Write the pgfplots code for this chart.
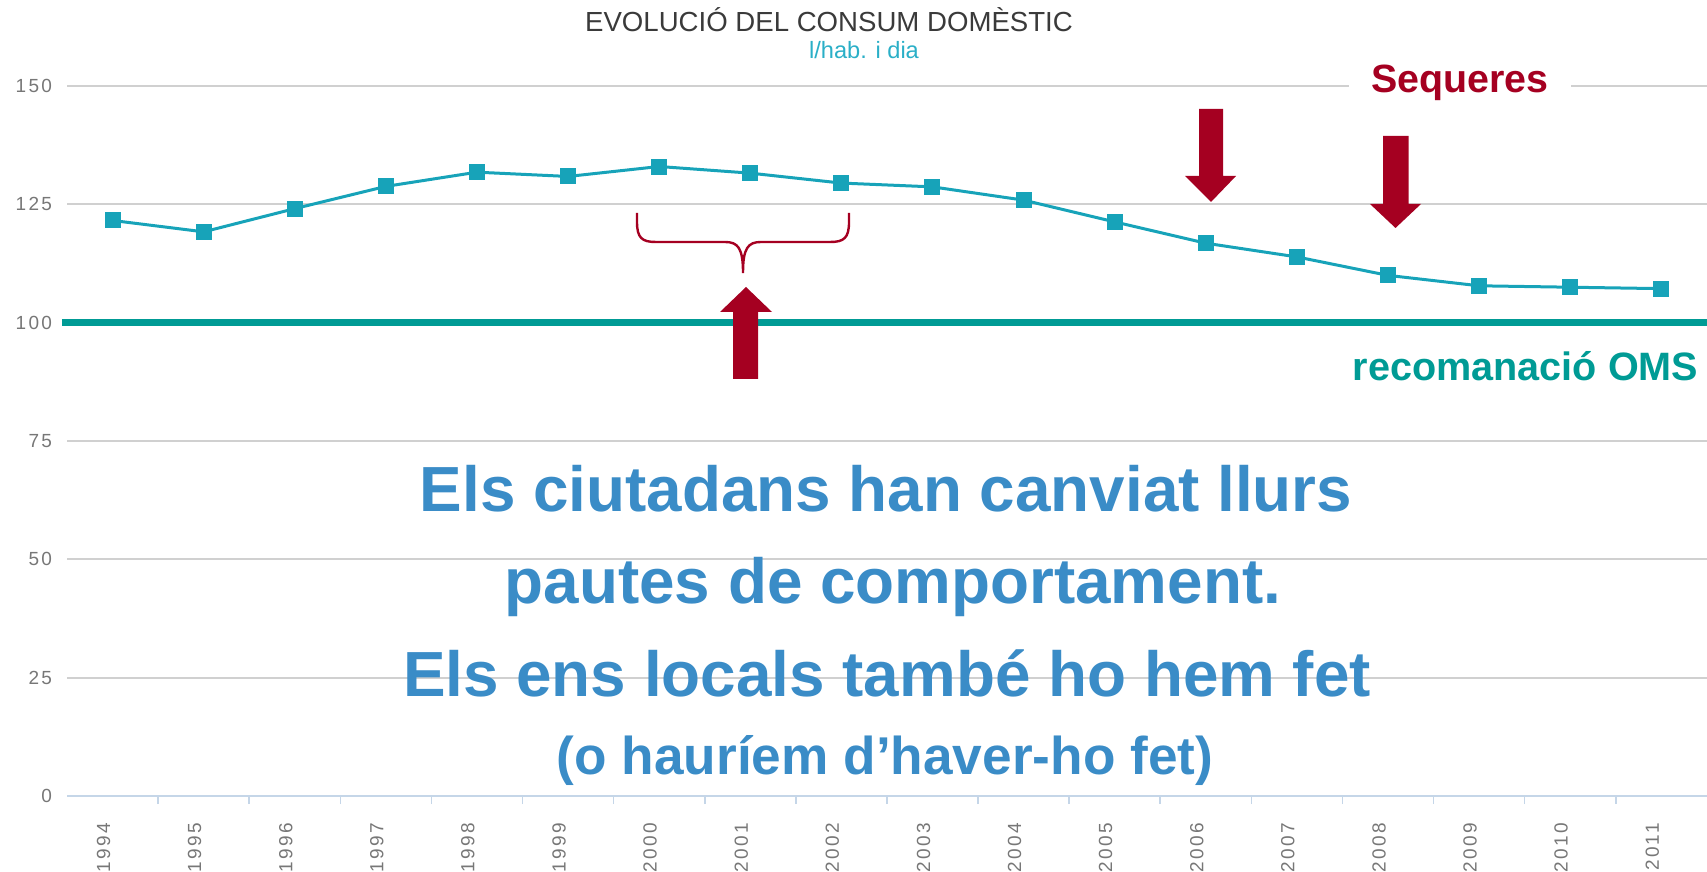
\documentclass[border=0pt]{standalone}
\usepackage{fontspec}
\setmainfont{Liberation Sans}
\newfontfamily\tickfont[LetterSpace=12]{Liberation Sans}
\usepackage{pgfplots}
\pgfplotsset{compat=1.18}
\definecolor{lineblue}{HTML}{17A3B9}
\definecolor{omsteal}{HTML}{009B95}
\definecolor{darkred}{HTML}{A50021}
\definecolor{textblue}{HTML}{3A8CC7}
\definecolor{subcyan}{HTML}{2AAFC7}
\definecolor{gridgray}{HTML}{D0D0D0}
\definecolor{axisblue}{HTML}{C5D6E8}
\definecolor{tickgray}{HTML}{777777}
\definecolor{titlegray}{HTML}{3A3A3A}

\begin{document}
\begin{tikzpicture}
\begin{axis}[
  x=45.55pt, y=2.36667pt,
  xmin=-0.5, xmax=17.5, ymin=0, ymax=150,
  clip=false,
  axis x line*=bottom,
  axis y line*=left,
  xtick pos=bottom,
  ytick pos=left,
  x axis line style={draw=axisblue, line width=1pt, -},
  y axis line style={draw=none},
  xtick={0,...,17},
  xticklabels={1994,1995,1996,1997,1998,1999,2000,2001,2002,2003,2004,2005,2006,2007,2008,2009,2010,2011},
  minor xtick={0.5,1.5,...,16.5},
  ytick={0,25,50,75,100,125,150},
  major tick length=0pt,
  minor tick length=4pt,
  tick align=outside,
  minor x tick style={draw=axisblue, line width=0.8pt},
  ymajorgrids,
  major grid style={draw=gridgray, line width=1pt},
  /pgf/number format/assume math mode=true,
  yticklabel style={font=\tickfont\fontsize{9.5}{9.5}\selectfont, text=tickgray, anchor=east, xshift=-4pt},
  xticklabel style={font=\tickfont\fontsize{9.5}{9.5}\selectfont, text=tickgray, yshift=-10pt, xshift=-4.5pt, rotate=90, anchor=east},
]
\draw[omsteal, line width=3.5pt] (axis cs:-0.555,100) -- (axis cs:17.5,100);
\addplot[lineblue, line width=1.5pt, mark=square*, mark size=3.25pt, mark options={fill=lineblue, draw=lineblue}] coordinates {
(0,121.6) (1,119.2) (2,124.1) (3,128.8) (4,131.8) (5,130.9) (6,133.0) (7,131.6) (8,129.5)
(9,128.7) (10,125.9) (11,121.3) (12,116.8) (13,113.9) (14,110.0) (15,107.8) (16,107.5) (17,107.2)
};
\coordinate (O) at (axis cs:-1.2355,168.18);
\end{axis}
\begin{scope}[shift={(O)}, x=0.5pt, y=-0.5pt]
  % arrows
  \fill[darkred] (733,379) -- (733,312) -- (720,312) -- (746,287) -- (772,312) -- (758,312) -- (758,379) -- cycle;
  \fill[darkred] (1199,109) -- (1199,176) -- (1185,176) -- (1211,202) -- (1236,176) -- (1223,176) -- (1223,109) -- cycle;
  \fill[darkred] (1383,136) -- (1383,204) -- (1370,204) -- (1395.5,228) -- (1421,204) -- (1408.5,204) -- (1408.5,136) -- cycle;
  % brace
  \draw[darkred, line width=1.2pt] (637,213) -- (637,222) .. controls (637,238) and (642,242) .. (656,242) -- (725,242)
     .. controls (738,242) and (743,248) .. (743,273)
     .. controls (743,248) and (748,242) .. (761,242) -- (830,242)
     .. controls (844,242) and (849,238) .. (849,222) -- (849,213);
  % title
  \node[anchor=base, inner sep=0pt, text=titlegray, font=\fontsize{13.8}{14}\selectfont] at (829,32) {EVOLUCIÓ DEL CONSUM DOMÈSTIC};
  \node[anchor=base, inner sep=0pt, text=subcyan, font=\fontsize{11.8}{12}\selectfont] at (864,59) {l/hab. i dia};
  % labels
  \node[anchor=base, fill=white, inner xsep=11pt, inner ysep=3pt, text=darkred, font=\bfseries\fontsize{19.7}{20}\selectfont] at (1460,93) {Sequeres};
  \node[anchor=base, inner sep=0pt, text=omsteal, font=\bfseries\fontsize{19.8}{20}\selectfont] at (1525.5,381) {recomanació OMS};
  % big text
  \node[anchor=base, inner sep=0pt, text=textblue, font=\bfseries\fontsize{31.9}{32}\selectfont] at (886,512) {Els ciutadans han canviat llurs};
  \node[anchor=base, inner sep=0pt, text=textblue, font=\bfseries\fontsize{31.9}{32}\selectfont] at (893,604) {pautes de comportament.};
  \node[anchor=base, inner sep=0pt, text=textblue, font=\bfseries\fontsize{31.9}{32}\selectfont] at (887,697) {Els ens locals també ho hem fet};
  \node[anchor=base, inner sep=0pt, text=textblue, font=\bfseries\fontsize{26.6}{27}\selectfont] at (885,775) {(o hauríem d’haver-ho fet)};
  \pgfresetboundingbox
  \path[use as bounding box] (0,0) rectangle (1707,872);
\end{scope}
\end{tikzpicture}
\end{document}
